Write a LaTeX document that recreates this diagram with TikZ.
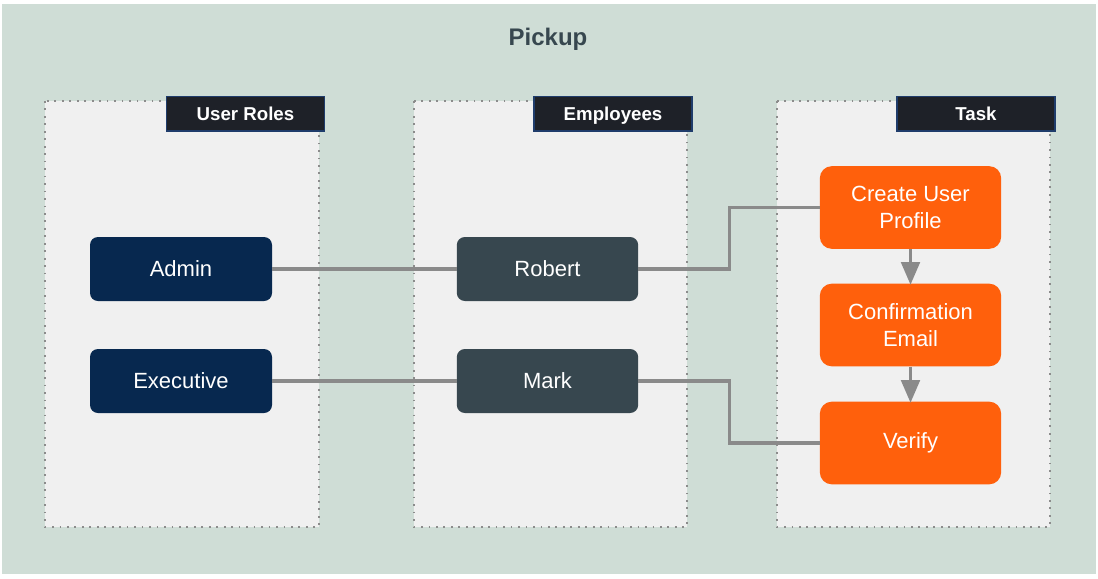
\documentclass[tikz,border=0pt]{standalone}
\usepackage{fontspec}
\setmainfont{Liberation Sans}
\usetikzlibrary{arrows.meta,calc,positioning}
\definecolor{bgsage}{HTML}{CFDDD6}
\definecolor{panelgray}{HTML}{F0F0F0}
\definecolor{dotgray}{HTML}{8C8C8C}
\definecolor{navy}{HTML}{07284F}
\definecolor{slate}{HTML}{37474F}
\definecolor{flame}{HTML}{FF600C}
\definecolor{headfill}{HTML}{1E2128}
\definecolor{headline}{HTML}{1F3C6B}
\definecolor{title}{HTML}{37474F}
\definecolor{wire}{HTML}{8A8A8A}
\tikzset{>={Triangle[length=17pt,width=14pt]},
  every node/.style={font=\fontsize{16.5}{20}\selectfont,text=white,align=center},
  panel/.style={fill=panelgray,draw=dotgray,line width=1.3pt,dash pattern=on 1.3pt off 4.3pt},
  header/.style={fill=headfill,draw=headline,line width=1pt,minimum width=118.5pt,
    minimum height=26pt,text height=10pt,text depth=0pt,font=\fontsize{14}{16}\selectfont\bfseries},
  role/.style={fill=navy,rounded corners=6pt,minimum width=136.5pt,minimum height=48pt},
  person/.style={fill=slate,rounded corners=6pt,minimum width=136pt,minimum height=48pt},
  task/.style={fill=flame,rounded corners=9pt,minimum width=136pt,minimum height=62pt},
  link/.style={draw=wire,line width=2.3pt},
  flow/.style={->,draw=wire,line width=2.3pt,shorten >=-1pt}}

\begin{document}
\begin{tikzpicture}[x=0.75pt,y=-0.75pt]
\useasboundingbox (0,0) rectangle (1098,578);
\fill[bgsage] (2,4) rectangle (1096,574);
\node[text=title,font=\fontsize{18}{21}\selectfont\bfseries] (pickup) at (548,39.5) {Pickup};
% columns
\draw[panel] (45,101) rectangle (319,527);
\draw[panel] (414,101) rectangle (687,527);
\draw[panel] (777,101) rectangle (1050,527);
\node[header] (hroles) at (245.5,113.5) {User Roles};
\node[header] (hemployees) at (613,113.5) {Employees};
\node[header] (htask) at (976,113.5) {Task};
% nodes
\node[role] (admin) at (181,269) {Admin};
\node[role] (executive) at (181,381) {Executive};
\node[person] (robert) at (547.5,269) {Robert};
\node[person] (mark) at (547.5,381) {Mark};
\node[task] (create) at (910.5,207.5) {Create User\\Profile};
\node[task] (confirm) at (910.5,325) {Confirmation\\Email};
\node[task] (verify) at (910.5,443) {Verify};
% connectors
\draw[link] (admin) -- (robert);
\draw[link] (executive) -- (mark);
\draw[link] (robert.east) -- ++(91,0) |- (create.west);
\draw[link] (mark.east) -- ++(91,0) |- (verify.west);
\draw[flow] (create) -- (confirm);
\draw[flow] (confirm) -- (verify);
\end{tikzpicture}
\end{document}
